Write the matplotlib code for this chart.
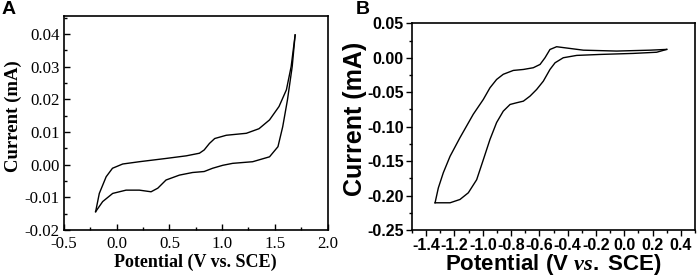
import matplotlib
matplotlib.use("Agg")
import matplotlib.pyplot as plt
from matplotlib.ticker import MultipleLocator, FormatStrFormatter

plt.rcParams['axes.unicode_minus'] = False
plt.rcParams['mathtext.fontset'] = 'custom'
plt.rcParams['mathtext.it'] = 'Liberation Serif:italic:bold'
plt.rcParams['mathtext.rm'] = 'Liberation Sans:bold'

# Panel A: CV (forward / anodic branch then reverse branch)
a_fwd_x = [-0.20, -0.165, -0.10, -0.04, 0.057, 0.215, 0.468, 0.66, 0.785, 0.83, 0.88, 0.93,
           1.04, 1.23, 1.35, 1.45, 1.54, 1.61, 1.655, 1.693]
a_fwd_y = [-0.0144, -0.0088, -0.0037, -0.0011, 0.0002, 0.0009, 0.0019, 0.0027, 0.0035, 0.0045,
           0.0065, 0.0080, 0.0090, 0.0096, 0.0110, 0.0137, 0.0178, 0.0229, 0.0300, 0.0397]
a_rev_x = [1.693, 1.665, 1.62, 1.575, 1.53, 1.45, 1.29, 1.10, 1.006, 0.91, 0.83, 0.72, 0.595,
           0.468, 0.39, 0.326, 0.215, 0.089, -0.038, -0.133, -0.20]
a_rev_y = [0.0397, 0.0300, 0.0198, 0.0116, 0.0055, 0.0024, 0.0009, 0.0004, -0.0002, -0.0011,
           -0.0021, -0.0024, -0.0032, -0.0047, -0.0072, -0.0083, -0.0078, -0.0078, -0.0088,
           -0.0113, -0.0144]

# Panel B: CV (upper branch from right to left, lower branch back to right)
b_up_x = [0.300, 0.182, -0.054, -0.289, -0.478, -0.525, -0.560, -0.595, -0.643, -0.713,
          -0.784, -0.855, -0.902, -0.949, -0.996, -1.067, -1.161, -1.231, -1.279, -1.314, -1.337]
b_up_y = [0.0121, 0.0110, 0.0097, 0.0110, 0.0160, 0.0120, 0.0000, -0.0097, -0.0145, -0.0170,
          -0.0184, -0.0240, -0.0315, -0.0436, -0.0605, -0.0820, -0.1160, -0.1430, -0.1670,
          -0.1890, -0.2105]
b_lo_x = [-1.337, -1.231, -1.161, -1.102, -1.043, -0.996, -0.949, -0.902, -0.855, -0.807,
          -0.760, -0.713, -0.666, -0.619, -0.572, -0.525, -0.489, -0.431, -0.336, -0.171,
          0.064, 0.229, 0.300]
b_lo_y = [-0.2105, -0.2105, -0.2057, -0.1960, -0.1770, -0.1480, -0.1186, -0.0940, -0.0775,
          -0.0678, -0.0653, -0.0630, -0.0557, -0.0460, -0.0340, -0.0170, -0.0073, 0.0000,
          0.0034, 0.0048, 0.0063, 0.0080, 0.0121]

a_xticks = [-0.5, 0.0, 0.5, 1.0, 1.5, 2.0]
a_yticks = [-0.02, -0.01, 0.00, 0.01, 0.02, 0.03, 0.04]
b_xticks = [-1.4, -1.2, -1.0, -0.8, -0.6, -0.4, -0.2, 0.0, 0.2, 0.4]
b_yticks = [-0.25, -0.20, -0.15, -0.10, -0.05, 0.00, 0.05]

W, H = 699, 277
fig = plt.figure(figsize=(W / 100, H / 100), dpi=100)

def box(l, r, t, b):
    return [l / W, 1 - b / H, (r - l) / W, (b - t) / H]

# ---- Panel A ----
serif = 'Liberation Serif'
axA = fig.add_axes(box(64, 327.5, 16, 230))
axA.plot(a_fwd_x, a_fwd_y, color='black', lw=1.0)
axA.plot(a_rev_x, a_rev_y, color='black', lw=1.0)
axA.set_xlim(-0.5, 2.0)
axA.set_ylim(-0.02, 0.0455)
axA.set_xticks(a_xticks)
axA.set_yticks(a_yticks)
axA.xaxis.set_minor_locator(MultipleLocator(0.25))
axA.yaxis.set_minor_locator(MultipleLocator(0.005))
axA.xaxis.set_major_formatter(FormatStrFormatter('%.1f'))
axA.yaxis.set_major_formatter(FormatStrFormatter('%.2f'))
axA.tick_params(which='both', direction='in', top=False, right=False)
axA.tick_params(which='major', length=4, width=1.0, pad=3)
axA.tick_params(axis='x', which='major', pad=4.5)
axA.tick_params(which='minor', length=2.5, width=1.0)
for lab in axA.get_xticklabels() + axA.get_yticklabels():
    lab.set_fontfamily(serif)
    lab.set_fontsize(12.2)
for s in axA.spines.values():
    s.set_linewidth(1.2)
axA.set_xlabel('Potential (V vs. SCE)', fontfamily=serif, fontweight='bold', fontsize=13)
axA.set_ylabel('Current (mA)', fontfamily=serif, fontweight='bold', fontsize=13.5)
axA.xaxis.set_label_coords(0.5, -0.11)
axA.yaxis.set_label_coords(-0.16, 0.53)
fig.text(2 / W, 1 - 1 / H, 'A', fontsize=14, fontweight='bold', fontfamily='Liberation Sans',
         ha='left', va='top')

# ---- Panel B ----
sans = 'Liberation Sans'
axB = fig.add_axes(box(412, 695, 23.3, 230))
axB.plot(b_up_x, b_up_y, color='black', lw=1.0)
axB.plot(b_lo_x, b_lo_y, color='black', lw=1.0)
axB.set_xlim(-1.5, 0.5)
axB.set_ylim(-0.25, 0.05)
axB.set_xticks(b_xticks)
axB.set_yticks(b_yticks)
axB.xaxis.set_minor_locator(MultipleLocator(0.1))
axB.yaxis.set_minor_locator(MultipleLocator(0.025))
axB.xaxis.set_major_formatter(FormatStrFormatter('%.1f'))
axB.yaxis.set_major_formatter(FormatStrFormatter('%.2f'))
axB.tick_params(which='both', direction='out', top=False, right=False)
axB.tick_params(which='major', length=4, width=1.0, pad=2)
axB.tick_params(which='minor', length=2.5, width=1.0)
for lab in axB.get_xticklabels() + axB.get_yticklabels():
    lab.set_fontfamily(sans)
    lab.set_fontweight('bold')
    lab.set_fontsize(11.5)
for s in axB.spines.values():
    s.set_linewidth(1.2)
axB.set_xlabel(r'Potential (V $\it{vs.}$ SCE)', fontfamily=sans, fontweight='bold', fontsize=16)
axB.set_ylabel('Current (mA)', fontfamily=sans, fontweight='bold', fontsize=18)
axB.xaxis.set_label_coords(0.5, -0.108)
axB.yaxis.set_label_coords(-0.158, 0.54)
fig.text(356 / W, 1 - 1 / H, 'B', fontsize=14, fontweight='bold', fontfamily='Liberation Sans',
         ha='left', va='top')

fig.savefig('out.png', dpi=100)
